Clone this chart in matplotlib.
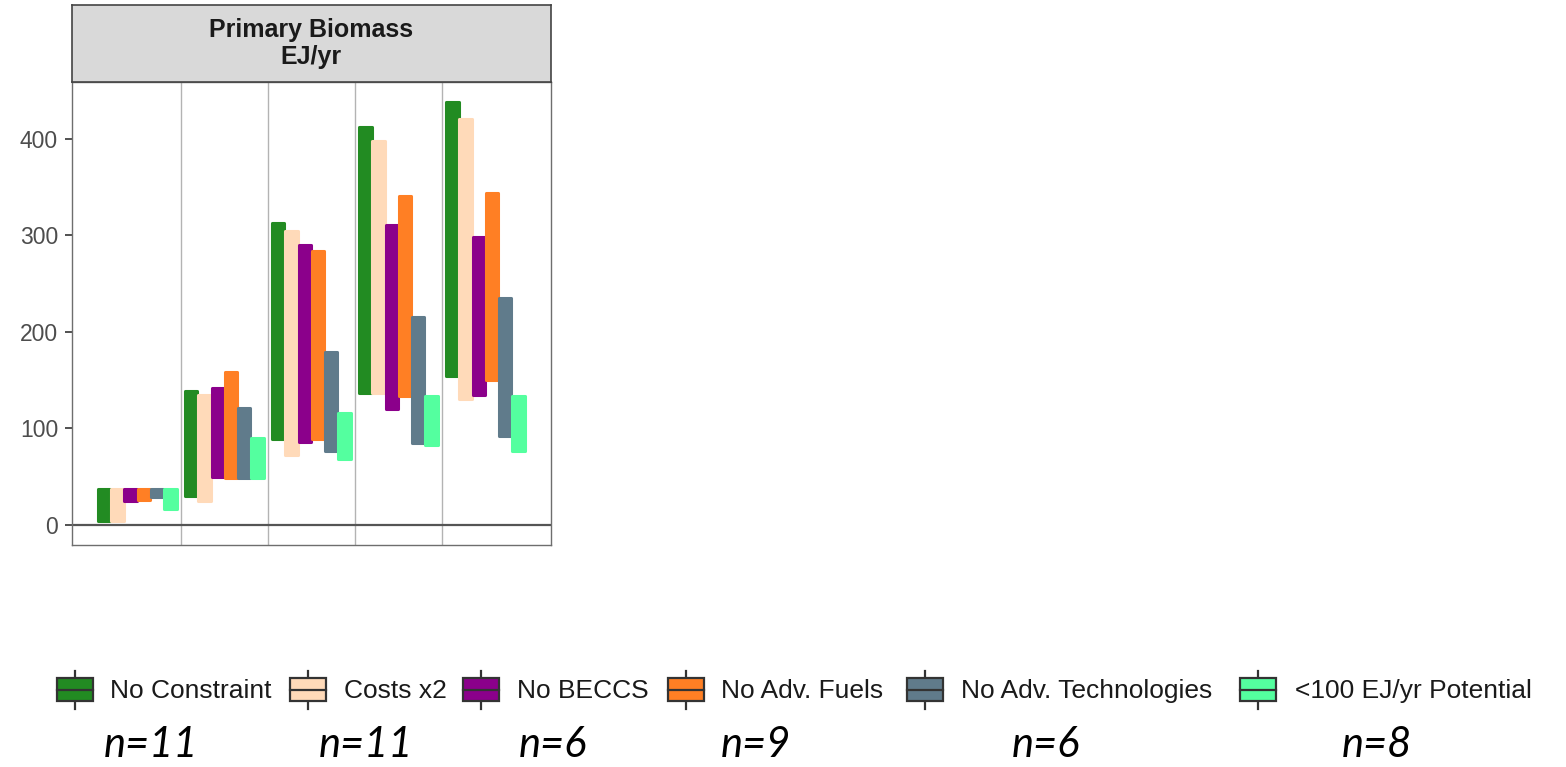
import matplotlib.pyplot as plt
from matplotlib.patches import Rectangle
import numpy as np

plt.rcParams['font.family'] = ['Liberation Sans', 'DejaVu Sans']

# scenarios and their colours
scenarios = ["No Constraint", "Costs x2", "No BECCS", "No Adv. Fuels",
             "No Adv. Technologies", "<100 EJ/yr Potential"]
colors = ["#228B22", "#FFDAB9", "#8B008B", "#FF7F24", "#607B8B", "#54FF9F"]
n_models = ["n=11", "n=11", "n=6", "n=9", "n=6", "n=8"]

# five time steps, range (low, high) of primary biomass per scenario, EJ/yr
low = [
    [4, 4, 25, 26, 29, 16],
    [30, 25, 50, 49, 48, 49],
    [89, 72, 86, 89, 76, 68],
    [137, 137, 120, 133, 85, 83],
    [154, 130, 135, 150, 92, 76],
]
high = [
    [37, 37, 37, 37, 37, 37],
    [139, 135, 142, 158, 121, 90],
    [313, 305, 290, 284, 179, 116],
    [412, 398, 311, 341, 215, 134],
    [438, 421, 298, 344, 235, 134],
]

low = np.array(low)
high = np.array(high)
n_groups = low.shape[0]
width = 0.152

fig = plt.figure(figsize=(15.66, 7.67), dpi=100)
ax = fig.add_axes([0.04598, 0.2894, 0.3057, 0.6037])

for i, (name, col) in enumerate(zip(scenarios, colors)):
    x = np.arange(n_groups) + (i - 2.5) * width
    ax.bar(x, high[:, i] - low[:, i], bottom=low[:, i], width=width - 0.01,
           color=col, edgecolor=col, linewidth=2.2, joinstyle='round',
           zorder=3)

# separators between time steps
for xv in np.arange(n_groups - 1) + 0.5:
    ax.axvline(xv, color="#b3b3b3", linewidth=1, zorder=1)
ax.axhline(0, color="#555555", linewidth=1.6, zorder=2)

ax.set_xlim(-0.75, 4.75)
ax.set_ylim(-21, 459)
ax.set_xticks([])
ax.set_yticks([0, 100, 200, 300, 400])
ax.tick_params(axis='y', length=5, width=1.2, color="#333333",
               labelsize=16.5, labelcolor="#4D4D4D", pad=5)
for sp in ax.spines.values():
    sp.set_color("#6e6e6e")
    sp.set_linewidth(1)

# facet strip
strip = fig.add_axes([0.04598, 0.8931, 0.3057, 0.1004])
strip.set_facecolor("#D9D9D9")
strip.set_xticks([])
strip.set_yticks([])
for sp in strip.spines.values():
    sp.set_color("#444444")
    sp.set_linewidth(1.2)
strip.text(0.5, 0.5, "Primary Biomass\nEJ/yr", ha='center', va='center',
           fontsize=18, fontweight='bold', color="#1a1a1a",
           linespacing=1.2, transform=strip.transAxes)

# legend row drawn in pixel coordinates
lg = fig.add_axes([0, 0, 1, 1])
lg.set_xlim(0, 1566)
lg.set_ylim(767, 0)
lg.axis('off')
key_x = [57, 290, 463, 668, 907, 1240]
text_x = [110, 344, 517, 721, 961, 1295]
n_x = [151, 366, 553, 756, 1046, 1377]
for kx, tx, nx, name, col, nl in zip(key_x, text_x, n_x, scenarios, colors, n_models):
    lg.plot([kx + 18, kx + 18], [671, 709], color="#333333", linewidth=1.6)
    lg.add_patch(Rectangle((kx, 678), 36, 23, facecolor=col,
                           edgecolor="#333333", linewidth=1.6, zorder=3))
    lg.plot([kx, kx + 36], [689.5, 689.5], color="#333333", linewidth=1.6, zorder=4)
    lg.text(tx, 691, name, ha='left', va='center', fontsize=19, color="#1a1a1a")
    lg.text(nx, 745, nl, ha='center', va='center', fontsize=30,
            style='italic', family=['Lato', 'DejaVu Sans'], color="black")

fig.savefig("out.png", dpi=100)
